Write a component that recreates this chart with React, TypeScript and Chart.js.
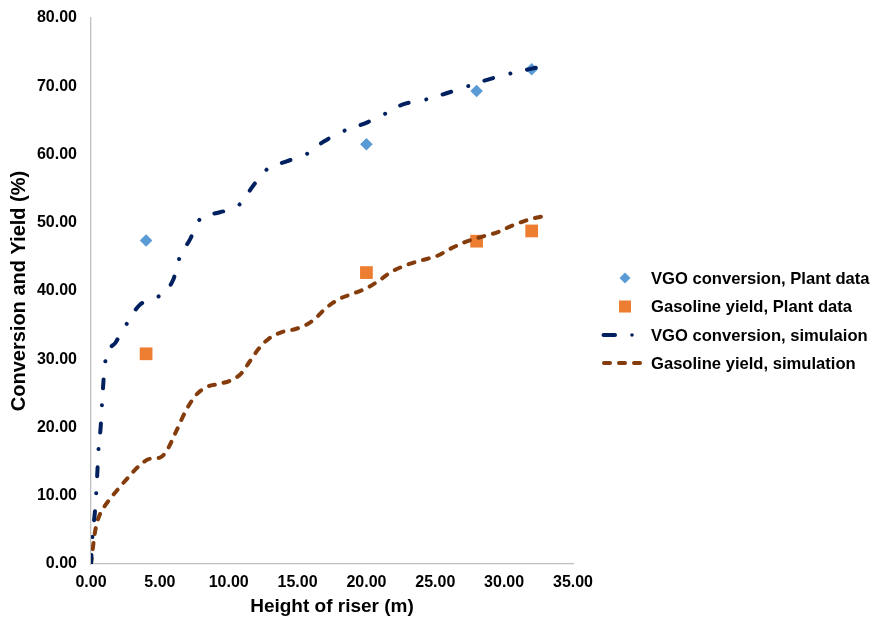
import React, { useEffect, useRef } from "react";
import { Chart, registerables } from "chart.js";

Chart.register(...registerables);

// Plant data
const plantHeights = [4, 20, 28, 32];
const vgoPlant = [47.4, 61.5, 69.3, 72.5];
const gasolinePlant = [30.8, 42.7, 47.3, 48.8];

// Simulation curves
const vgoSimX = [0, 0.1, 0.3, 0.45, 0.55, 0.7, 0.8, 0.95, 1.05, 1.8, 2.6, 3.5, 4.9, 6.0, 6.4, 7.2, 7.9, 9.3, 10.8, 11.8, 12.7, 14.2, 15.6, 16.9, 18.3, 19.8, 21.2, 22.6, 24.2, 25.7, 27.2, 28.7, 30.3, 32.5];
const vgoSimY = [0, 4, 8, 13, 17, 20, 23.5, 28, 29.8, 32.5, 35.2, 37.9, 39.2, 41.8, 44.7, 47.6, 50.5, 51.5, 52.7, 55.5, 57.7, 59, 60, 61.9, 63.4, 64.5, 65.8, 67.3, 68, 68.9, 69.9, 70.9, 71.8, 72.8];
const gasSimX = [0, 0.3, 0.65, 1.0, 1.85, 2.8, 3.5, 4.25, 5.0, 5.5, 6.2, 6.9, 7.6, 8.35, 9.3, 10.15, 10.9, 11.5, 12.2, 12.9, 13.9, 14.8, 15.6, 16.3, 17.0, 18.0, 19.0, 20.0, 20.9, 21.8, 22.9, 24.0, 25.2, 26.1, 27.2, 28.3, 29.5, 30.6, 31.7, 32.9];
const gasSimY = [0, 4.8, 7.3, 8.5, 10.7, 12.9, 14.4, 15.4, 15.6, 16.6, 19.5, 22.5, 24.7, 25.9, 26.4, 26.9, 27.9, 29.6, 31.6, 33.0, 34.0, 34.4, 35.0, 36.0, 37.4, 38.8, 39.6, 40.4, 41.5, 42.8, 43.8, 44.5, 45.2, 46.2, 47.2, 47.9, 48.6, 49.6, 50.4, 51.0];

const seriesLabels = [
  "VGO conversion, Plant data",
  "Gasoline yield, Plant data",
  "VGO conversion, simulaion",
  "Gasoline yield, simulation",
];

const xTitle = "Height of riser (m)";
const yTitle = "Conversion and Yield (%)";

const BLUE_PT = "#5B9BD5";
const ORANGE_PT = "#ED7D31";
const NAVY = "#002060";
const BROWN = "#843C0C";
const FONT = "'Liberation Sans', Arial, sans-serif";

const zip = (xs: number[], ys: number[]) => xs.map((x, i) => ({ x, y: ys[i] }));

const legendPlugin = {
  id: "customLegend",
  afterDraw(chart: any) {
    const ctx = chart.ctx as CanvasRenderingContext2D;
    const rows = [278, 306.5, 335, 363];
    const textX = 651;
    ctx.save();
    ctx.font = `bold 16.6px ${FONT}`;
    ctx.fillStyle = "#000";
    ctx.textBaseline = "middle";
    ctx.textAlign = "left";
    seriesLabels.forEach((t, i) => ctx.fillText(t, textX, rows[i] + 1));
    // diamond
    ctx.fillStyle = BLUE_PT;
    ctx.beginPath();
    const dx = 625, dy = rows[0];
    ctx.moveTo(dx, dy - 5.5);
    ctx.lineTo(dx + 5.5, dy);
    ctx.lineTo(dx, dy + 5.5);
    ctx.lineTo(dx - 5.5, dy);
    ctx.closePath();
    ctx.fill();
    // square
    ctx.fillStyle = ORANGE_PT;
    ctx.fillRect(619, rows[1] - 6, 12, 12);
    // navy dash dot
    ctx.lineCap = "round";
    ctx.lineWidth = 4;
    ctx.strokeStyle = NAVY;
    ctx.setLineDash([]);
    ctx.beginPath();
    ctx.moveTo(603.5, rows[2]);
    ctx.lineTo(615, rows[2]);
    ctx.stroke();
    ctx.beginPath();
    ctx.arc(632, rows[2], 1.8, 0, Math.PI * 2);
    ctx.fillStyle = NAVY;
    ctx.fill();
    // brown dashes
    ctx.strokeStyle = BROWN;
    ctx.setLineDash([6, 9]);
    ctx.beginPath();
    ctx.moveTo(604, rows[3]);
    ctx.lineTo(646, rows[3]);
    ctx.stroke();
    ctx.restore();
  },
};

export default function App() {
  const ref = useRef<HTMLCanvasElement | null>(null);
  useEffect(() => {
    document.body.style.margin = "0";
    const canvas = ref.current!;
    const chart = new Chart(canvas, {
      type: "scatter",
      data: {
        datasets: [
          {
            label: seriesLabels[0],
            data: zip(plantHeights, vgoPlant),
            pointStyle: "rectRot",
            pointRadius: 6.3,
            pointHoverRadius: 6.3,
            backgroundColor: BLUE_PT,
            borderColor: BLUE_PT,
            borderWidth: 0,
            showLine: false,
            order: 2,
          },
          {
            label: seriesLabels[1],
            data: zip(plantHeights, gasolinePlant),
            pointStyle: "rect",
            pointRadius: 9,
            pointHoverRadius: 9,
            backgroundColor: ORANGE_PT,
            borderColor: ORANGE_PT,
            borderWidth: 0,
            showLine: false,
            order: 2,
          },
          {
            label: seriesLabels[2],
            data: zip(vgoSimX, vgoSimY),
            showLine: true,
            pointRadius: 0,
            borderColor: NAVY,
            backgroundColor: NAVY,
            borderWidth: 4,
            borderDash: [9, 18, 0.01, 17],
            borderCapStyle: "round",
            cubicInterpolationMode: "monotone",
            order: 1,
          } as any,
          {
            label: seriesLabels[3],
            data: zip(gasSimX, gasSimY),
            showLine: true,
            pointRadius: 0,
            borderColor: BROWN,
            backgroundColor: BROWN,
            borderWidth: 4,
            borderDash: [6, 9],
            borderCapStyle: "round",
            cubicInterpolationMode: "monotone",
            order: 1,
          } as any,
        ],
      },
      options: {
        animation: false,
        responsive: false,
        layout: { padding: { top: 18, right: 298, left: 0, bottom: 0 } },
        plugins: {
          legend: { display: false },
          tooltip: { enabled: false },
        },
        scales: {
          x: {
            type: "linear",
            min: 0,
            max: 35,
            grid: { display: false, drawTicks: false },
            border: { display: true, color: "#bfbfbf", width: 1.3 },
            ticks: {
              stepSize: 5,
              padding: 9,
              color: "#000",
              font: { family: FONT, size: 16, weight: "bold" },
              callback: (v: any) => Number(v).toFixed(2),
            },
            title: {
              display: true,
              text: xTitle,
              color: "#000",
              font: { family: FONT, size: 19, weight: "bold", lineHeight: 1.2 },
              padding: { top: 2, bottom: 3 },
            },
            afterFit: (s: any) => {
              s.height = 57;
              s.paddingLeft = 0;
              s.paddingRight = 0;
            },
          },
          y: {
            type: "linear",
            min: 0,
            max: 80,
            grid: { display: false, drawTicks: false },
            border: { display: true, color: "#bfbfbf", width: 1.3 },
            ticks: {
              stepSize: 10,
              padding: 14,
              color: "#000",
              font: { family: FONT, size: 16, weight: "bold" },
              callback: (v: any) => Number(v).toFixed(2),
            },
            title: {
              display: true,
              text: yTitle,
              color: "#000",
              font: { family: FONT, size: 20, weight: "bold", lineHeight: 1.2 },
              padding: { top: 7, bottom: 0 },
            },
            afterFit: (s: any) => {
              s.width = 91;
              s.paddingTop = 0;
              s.paddingBottom = 0;
            },
          },
        },
      },
      plugins: [legendPlugin],
    });
    return () => chart.destroy();
  }, []);
  return (
    <div style={{ width: 871, height: 621 }}>
      <canvas ref={ref} width={871} height={621} style={{ display: "block" }} />
    </div>
  );
}
